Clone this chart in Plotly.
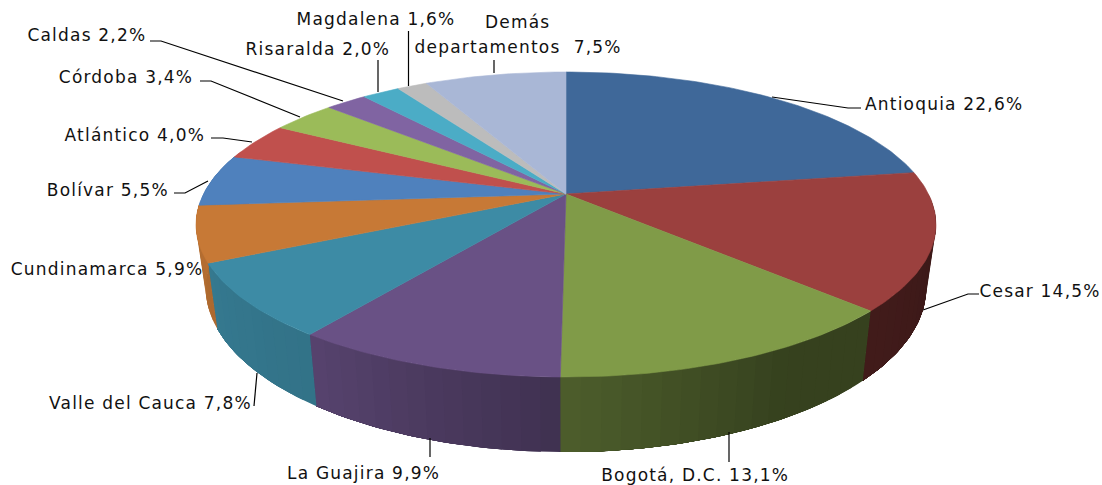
import numpy as np
import plotly.graph_objects as go

# ---- data ----
departments = ["Antioquia", "Cesar", "Bogotá, D.C.", "La Guajira", "Valle del Cauca", "Cundinamarca",
               "Bolívar", "Atlántico", "Córdoba", "Caldas", "Risaralda", "Magdalena", "Demás departamentos"]
shares = [22.6, 14.5, 13.1, 9.9, 7.8, 5.9, 5.5, 4.0, 3.4, 2.2, 2.0, 1.6, 7.5]
colors = ["#3f6899", "#9b403e", "#809b48", "#695185", "#3d8ba5", "#c77936", "#4f81bd",
          "#c0504d", "#9bbb59", "#8064a2", "#4bacc6", "#bcbcbc", "#a9b7d6"]

# ---- label placement (centre x, centre y, text) ----
label_texts = ["Antioquia 22,6%", "Cesar 14,5%", "Bogotá, D.C. 13,1%", "La Guajira 9,9%", "Valle del Cauca 7,8%",
               "Cundinamarca 5,9%", "Bolívar 5,5%", "Atlántico 4,0%", "Córdoba 3,4%", "Caldas 2,2%",
               "Risaralda 2,0%", "Magdalena 1,6%", "Demás", "departamentos  7,5%"]
label_x = [944, 1040, 695, 363, 150, 107, 108, 135, 126, 87, 318, 376, 518, 518]
label_y = [104, 291, 475, 473, 403, 269, 190, 135, 77, 35, 49, 19, 22, 47]
leaders = [[(861, 108), (848, 108), (772, 97)], [(979, 294), (968, 294), (923, 310)],
           [(729, 432), (729, 462)], [(430, 438), (430, 457)], [(257, 373), (254, 406)],
           [(174, 193), (185, 193), (208, 181)], [(211, 138), (223, 138), (252, 142)],
           [(200, 81), (211, 81), (300, 117)], [(150, 41), (161, 41), (343, 101)],
           [(378, 60), (378, 92)], [(408.5, 31), (408.5, 86)], [(494, 60), (494, 73)]]

# ---- perspective model of the disc ----
CX, CY, AX, BY, K = 566.0, 194.0, 362.5, 146.4, 0.2
SX, TY, Y0L = 0.974, 1.08, 254.4


def top_rim(theta):
    X, Y = np.sin(theta), np.cos(theta)
    d = 1 + K * Y
    return CX + AX * X / d, CY - BY * Y / d


def low_rim(theta):
    x, y = top_rim(theta)
    return CX + SX * (x - CX), Y0L + TY * (y - CY)


def shade(hex_colour, f):
    r, g, b = (int(hex_colour[i:i + 2], 16) for i in (1, 3, 5))
    return f"rgb({r * f:.0f},{g * f:.0f},{b * f:.0f})"


def poly(xs, ys, colour, width=1.0):
    return go.Scatter(x=xs, y=ys, mode="lines", fill="toself", fillcolor=colour,
                      line=dict(color=colour, width=width), hoverinfo="skip", showlegend=False)


fig = go.Figure()
edges = np.cumsum([0] + shares) / sum(shares) * 2 * np.pi

# side wall, split in narrow bands for the shading; each band runs on to the slice end
# and is painted over by the next one, so no seams show
for start, end, col in zip(edges[:-1], edges[1:], colors):
    a0, a1 = max(start, np.pi / 2), min(end, 1.6 * np.pi)
    if a1 <= a0:
        continue
    n = max(2, int((a1 - a0) / np.radians(2.5)))
    grid = np.linspace(a0, a1, n + 1)
    for g0, g1 in zip(grid[:-1], grid[1:]):
        t = np.linspace(g0, a1, max(4, int((a1 - g0) / np.radians(1))))
        xt, yt = top_rim(t)
        xl, yl = low_rim(t)
        f = np.interp(np.degrees((g0 + g1) / 2), [90, 130, 150, 180, 215, 245, 270, 290],
                      [0.36, 0.42, 0.42, 0.6, 0.82, 0.87, 0.92, 0.95])
        fig.add_trace(poly(np.r_[xt, xl[::-1]], np.r_[yt, yl[::-1]], shade(col, f), 0))

# top face
for start, end, col in zip(edges[:-1], edges[1:], colors):
    t = np.linspace(start, end, max(8, int((end - start) / np.radians(1))))
    xt, yt = top_rim(t)
    fig.add_trace(poly(np.r_[CX, xt, CX], np.r_[CY, yt, CY], col, 0.6))

# leader lines
for pts in leaders:
    xs, ys = zip(*pts)
    fig.add_trace(go.Scatter(x=xs, y=ys, mode="lines", line=dict(color="#000000", width=1.2),
                             hoverinfo="skip", showlegend=False))

for tx, lx, ly in zip(label_texts, label_x, label_y):
    fig.add_annotation(x=lx, y=ly, text=tx, showarrow=False, xanchor="center", yanchor="middle",
                       font=dict(family="DejaVu Sans", size=17, color="#111111"))

fig.update_layout(width=1102, height=485, margin=dict(l=0, r=0, t=0, b=0), paper_bgcolor="white",
                  plot_bgcolor="white", showlegend=False,
                  xaxis=dict(range=[0, 1102], visible=False, fixedrange=True),
                  yaxis=dict(range=[485, 0], visible=False, fixedrange=True))
post = ("document.body.style.margin='0';document.documentElement.style.overflow='hidden';"
        "document.querySelectorAll('.annotation-text').forEach(t=>{t.style.letterSpacing='1.2px';});")
fig.write_html("out.html", post_script=post, config={"displayModeBar": False})
